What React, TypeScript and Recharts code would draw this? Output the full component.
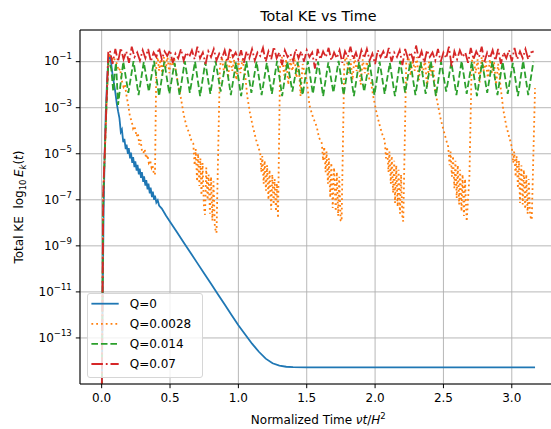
import React from 'react';
import { LineChart, Line, XAxis, YAxis, CartesianGrid, Legend, ReferenceLine } from 'recharts';

// ---- data (time, log10 of total KE) ----
const q0Points: [number, number][] = [
  [0, -16], [0.008, -11], [0.014, -7.5], [0.022, -5], [0.03, -3.2], [0.04, -1.8], [0.048, -1.0], [0.056, -0.68],
  [0.066, -0.9], [0.078, -1.5], [0.09, -1.95], [0.098, -2.25], [0.11, -2.8], [0.12, -3.15], [0.13, -3.45],
  [0.14, -4.05], [0.148, -3.95], [0.158, -4.5], [0.166, -4.35], [0.176, -4.8], [0.182, -4.6], [0.192, -5.0],
  [0.198, -4.75], [0.208, -5.2], [0.214, -4.95], [0.224, -5.4], [0.23, -5.15], [0.24, -5.58], [0.246, -5.33],
  [0.256, -5.73], [0.262, -5.48], [0.272, -5.9], [0.278, -5.65], [0.288, -6.05], [0.294, -5.8], [0.304, -6.22],
  [0.31, -5.98], [0.32, -6.38], [0.326, -6.15], [0.336, -6.55], [0.342, -6.3], [0.352, -6.72], [0.358, -6.47],
  [0.368, -6.88], [0.374, -6.65], [0.384, -7.0], [0.39, -6.82], [0.4, -7.12], [0.41, -7.02], [0.42, -7.25],
  [0.44, -7.38], [0.47, -7.68], [0.5, -7.95], [0.55, -8.4], [0.6, -8.85], [0.65, -9.3], [0.7, -9.75],
  [0.75, -10.2], [0.8, -10.65], [0.85, -11.1], [0.9, -11.55], [0.95, -12.0], [1.0, -12.45], [1.05, -12.85], [1.1, -13.25],
  [1.15, -13.6], [1.2, -13.9], [1.25, -14.1], [1.3, -14.2], [1.35, -14.25], [1.4, -14.27], [1.5, -14.28], [2.0, -14.28],
  [2.5, -14.28], [3.0, -14.28], [3.17, -14.28],
];

const q0028Points: [number, number][] = [
  [0, -16], [0.012, -6.8], [0.024, -4.9], [0.037, -2.7], [0.05, -1.0], [0.06, -0.75],
  [0.075, -0.9], [0.09, -0.8], [0.1, -1.05], [0.11, -1.07], [0.125, -1.4], [0.135, -1.3], [0.146, -1.8], [0.16, -2.1],
  [0.17, -2.0], [0.183, -2.52], [0.195, -2.9], [0.207, -3.39], [0.22, -3.6], [0.23, -3.9], [0.24, -3.8], [0.256, -4.25],
  [0.265, -4.1], [0.275, -4.6], [0.285, -4.4], [0.295, -4.9], [0.305, -4.97], [0.315, -4.8], [0.325, -5.2], [0.335, -5.05],
  [0.345, -5.4], [0.355, -5.3], [0.365, -5.6], [0.372, -5.5], [0.38, -5.8], [0.39, -5.92], [0.40, -1.0],
  [0.41, -0.8], [0.42, -1.4], [0.43, -0.9], [0.445, -1.6], [0.455, -0.8], [0.47, -1.3], [0.48, -0.7], [0.495, -1.5],
  [0.505, -0.9], [0.52, -1.2], [0.53, -0.8], [0.54, -1.3],
  [0.56, -2.0], [0.58, -2.6], [0.6, -3.3], [0.62, -3.8], [0.64, -4.1], [0.655, -4.4], [0.67, -4.54], [0.68, -5.5],
  [0.688, -4.8], [0.698, -6.2], [0.705, -5.0], [0.715, -6.4], [0.722, -5.2], [0.73, -6.8], [0.738, -5.4], [0.748, -7.3],
  [0.756, -7.65], [0.765, -5.6], [0.775, -7.0], [0.782, -5.9], [0.792, -7.6], [0.8, -6.0], [0.81, -7.9], [0.818, -6.2],
  [0.828, -8.2], [0.84, -8.44], [0.865, -1.2],
  [0.88, -0.8], [0.895, -1.5], [0.91, -0.9], [0.925, -1.7], [0.94, -0.8], [0.955, -1.4], [0.97, -0.9], [0.985, -1.8],
  [1.0, -1.0], [1.015, -1.5], [1.03, -0.9], [1.05, -1.6],
  [1.065, -2.5], [1.085, -3.24], [1.105, -3.8], [1.13, -4.4], [1.145, -4.7], [1.16, -4.97], [1.168, -5.8], [1.175, -5.1],
  [1.185, -6.3], [1.192, -5.3], [1.202, -6.6], [1.21, -5.5], [1.22, -7.0], [1.228, -5.7], [1.24, -7.43], [1.248, -5.9],
  [1.258, -7.2], [1.265, -6.1], [1.275, -7.5], [1.282, -6.3], [1.29, -7.8], [1.305, -1.2],
  [1.32, -0.8], [1.335, -1.6], [1.35, -0.9], [1.365, -2.0], [1.38, -0.9], [1.395, -1.4], [1.41, -0.8], [1.425, -1.7],
  [1.44, -1.0], [1.455, -2.5], [1.47, -1.1], [1.485, -1.5], [1.5, -1.8],
  [1.52, -2.9], [1.545, -3.4], [1.573, -3.82], [1.59, -4.3], [1.61, -4.54], [1.62, -5.3], [1.628, -4.7], [1.638, -5.8],
  [1.645, -4.9], [1.655, -6.3], [1.662, -5.2], [1.672, -6.9], [1.68, -5.4], [1.69, -7.36], [1.7, -5.6], [1.712, -7.5],
  [1.72, -5.8], [1.73, -7.7], [1.738, -6.0], [1.748, -7.9], [1.755, -7.94], [1.775, -1.0],
  [1.79, -0.8], [1.805, -1.5], [1.82, -0.9], [1.835, -1.8], [1.85, -0.8], [1.865, -1.4], [1.88, -1.0], [1.895, -2.0],
  [1.91, -0.9], [1.925, -1.5], [1.94, -1.0], [1.955, -1.7], [1.97, -1.9],
  [1.987, -2.52], [2.01, -3.2], [2.036, -3.82], [2.055, -4.2], [2.07, -4.4], [2.08, -5.2], [2.088, -4.7], [2.098, -5.8],
  [2.105, -4.9], [2.115, -6.3], [2.122, -5.1], [2.132, -6.7], [2.14, -5.3], [2.146, -7.14], [2.155, -5.5], [2.165, -7.3],
  [2.172, -5.7], [2.182, -7.6], [2.19, -5.9], [2.2, -7.8], [2.206, -7.94], [2.228, -1.0],
  [2.245, -0.8], [2.26, -1.6], [2.275, -0.9], [2.29, -1.4], [2.305, -0.8], [2.32, -1.8], [2.335, -1.0], [2.35, -1.5],
  [2.365, -0.9], [2.38, -2.1], [2.395, -1.0], [2.41, -1.6], [2.425, -1.2], [2.44, -2.3],
  [2.462, -2.95], [2.48, -3.5], [2.5, -3.96], [2.52, -4.4], [2.535, -4.7], [2.545, -5.5], [2.552, -4.9], [2.562, -6.0],
  [2.57, -5.1], [2.58, -6.5], [2.588, -5.3], [2.597, -6.93], [2.605, -5.5], [2.615, -7.2], [2.622, -5.7], [2.632, -7.5],
  [2.64, -5.9], [2.65, -7.7], [2.658, -6.1], [2.67, -7.94], [2.69, -6.0], [2.707, -1.0],
  [2.72, -0.8], [2.735, -1.5], [2.75, -0.9], [2.765, -1.9], [2.78, -0.8], [2.795, -1.4], [2.81, -1.0], [2.825, -1.7],
  [2.84, -0.9], [2.855, -1.5], [2.87, -1.0], [2.885, -2.0], [2.9, -1.1], [2.92, -2.2],
  [2.938, -3.1], [2.96, -3.8], [2.987, -4.4], [3.0, -4.7], [3.01, -5.4], [3.018, -4.9], [3.028, -6.0], [3.035, -5.1],
  [3.045, -6.5], [3.052, -5.3], [3.06, -7.14], [3.07, -5.5], [3.08, -7.2], [3.088, -5.7], [3.098, -7.4], [3.106, -5.9],
  [3.116, -7.6], [3.124, -6.1], [3.134, -7.7], [3.146, -7.87], [3.17, -2.15],
];

const q014Times: number[] = [
  0, 0.012, 0.024, 0.037, 0.05, 0.07, 0.085, 0.095, 0.105, 0.12,
  0.158, 0.195, 0.233, 0.27, 0.308, 0.345, 0.383, 0.42, 0.458, 0.495,
  0.533, 0.57, 0.608, 0.645, 0.683, 0.72, 0.758, 0.795, 0.833, 0.87,
  0.908, 0.945, 0.983, 1.02, 1.058, 1.095, 1.133, 1.17, 1.208, 1.245,
  1.283, 1.32, 1.358, 1.395, 1.433, 1.47, 1.508, 1.545, 1.583, 1.62,
  1.658, 1.695, 1.733, 1.77, 1.808, 1.845, 1.883, 1.92, 1.958, 1.995,
  2.033, 2.07, 2.108, 2.145, 2.183, 2.22, 2.258, 2.295, 2.333, 2.37,
  2.408, 2.445, 2.483, 2.52, 2.558, 2.595, 2.633, 2.67, 2.708, 2.745,
  2.783, 2.82, 2.858, 2.895, 2.933, 2.97, 3.008, 3.045, 3.083, 3.12,
  3.158,
];
const q014Log: number[] = [
  -16, -6.8, -4.8, -2.6, -0.95, -1.3, -2.3, -1.5, -1.05, -2.88,
  -1.0, -2.35, -0.98, -2.45, -1.02, -2.3, -0.97, -2.5, -1.0, -2.4,
  -1.05, -2.45, -0.98, -2.35, -1.0, -2.5, -1.02, -2.4, -0.97, -2.3,
  -1.0, -2.45, -1.03, -2.5, -0.98, -2.35, -1.0, -2.45, -1.05, -2.4,
  -0.97, -2.5, -1.0, -2.3, -1.02, -2.45, -0.98, -2.4, -1.0, -2.5,
  -1.03, -2.35, -0.97, -2.45, -1.0, -2.5, -1.02, -2.3, -0.98, -2.45,
  -1.0, -2.4, -1.05, -2.5, -0.97, -2.35, -1.0, -2.45, -1.02, -2.4,
  -0.98, -2.5, -1.0, -2.3, -1.03, -2.45, -0.97, -2.4, -1.0, -2.5,
  -1.02, -2.35, -0.98, -2.45, -1.0, -2.4, -1.05, -2.5, -0.97, -2.45,
  -1.0,
];

const q07Times: number[] = [
  0, 0.012, 0.024, 0.037, 0.048,
  0.06, 0.08, 0.10, 0.12, 0.14, 0.16, 0.18, 0.20, 0.22, 0.24,
  0.26, 0.28, 0.30, 0.32, 0.34, 0.36, 0.38, 0.40, 0.42, 0.44,
  0.46, 0.48, 0.50, 0.52, 0.54, 0.56, 0.58, 0.60, 0.62, 0.64,
  0.66, 0.68, 0.70, 0.72, 0.74, 0.76, 0.78, 0.80, 0.82, 0.84,
  0.86, 0.88, 0.90, 0.92, 0.94, 0.96, 0.98, 1.00, 1.02, 1.04,
  1.06, 1.08, 1.10, 1.12, 1.14, 1.16, 1.18, 1.20, 1.22, 1.24,
  1.26, 1.28, 1.30, 1.32, 1.34, 1.36, 1.38, 1.40, 1.42, 1.44,
  1.46, 1.48, 1.50, 1.52, 1.54, 1.56, 1.58, 1.60, 1.62, 1.64,
  1.66, 1.68, 1.70, 1.72, 1.74, 1.76, 1.78, 1.80, 1.82, 1.84,
  1.86, 1.88, 1.90, 1.92, 1.94, 1.96, 1.98, 2.00, 2.02, 2.04,
  2.06, 2.08, 2.10, 2.12, 2.14, 2.16, 2.18, 2.20, 2.22, 2.24,
  2.26, 2.28, 2.30, 2.32, 2.34, 2.36, 2.38, 2.40, 2.42, 2.44,
  2.46, 2.48, 2.50, 2.52, 2.54, 2.56, 2.58, 2.60, 2.62, 2.64,
  2.66, 2.68, 2.70, 2.72, 2.74, 2.76, 2.78, 2.80, 2.82, 2.84,
  2.86, 2.88, 2.90, 2.92, 2.94, 2.96, 2.98, 3.00, 3.02, 3.04,
  3.06, 3.08, 3.10, 3.12, 3.14, 3.16,
];
const q07Log: number[] = [
  -16, -6.6, -4.7, -2.5, -0.6,
  -0.5, -1.1, -0.45, -1.0, -0.4, -0.9, -0.55, -1.05, -0.35, -0.8,
  -0.6, -0.95, -0.5, -0.85, -0.45, -1.0, -0.6, -0.8, -0.4, -0.9,
  -0.55, -0.75, -0.5, -1.05, -0.65, -0.85, -0.45, -0.95, -0.6, -0.8,
  -0.5, -0.9, -0.35, -0.85, -0.6, -1.1, -0.55, -0.8, -0.45, -0.95,
  -0.65, -0.85, -0.5, -1.0, -0.4, -0.8, -0.6, -0.9, -0.5, -1.05,
  -0.55, -0.85, -0.45, -0.95, -0.6, -0.75, -0.4, -1.0, -0.55, -0.9,
  -0.35, -0.85, -0.6, -1.15, -0.5, -0.8, -0.65, -0.95, -0.45, -0.85,
  -0.55, -1.0, -0.5, -0.8, -0.6, -1.3, -0.45, -0.9, -0.55, -0.8,
  -0.4, -0.95, -0.6, -0.85, -0.5, -1.05, -0.55, -0.8, -0.35, -0.9,
  -0.6, -1.0, -0.5, -0.85, -0.45, -0.95, -0.65, -1.1, -0.5, -0.8,
  -0.55, -0.9, -0.4, -1.0, -0.6, -0.8, -0.5, -1.15, -0.45, -0.85,
  -0.6, -0.95, -0.3, -0.9, -0.55, -1.05, -0.5, -0.8, -0.6, -0.95,
  -0.45, -1.0, -0.6, -0.85, -0.35, -1.2, -0.55, -0.9, -0.5, -0.8,
  -0.6, -1.05, -0.4, -0.9, -0.55, -0.8, -0.35, -1.0, -0.6, -0.85,
  -0.5, -0.95, -0.45, -1.1, -0.6, -0.85, -0.5, -1.0, -0.4, -0.9,
  -0.55, -0.85, -0.45, -0.9, -0.6, -0.55,
];

const xTicks = [0, 0.5, 1.0, 1.5, 2.0, 2.5, 3.0];
const yTickExps = [-1, -3, -5, -7, -9, -11, -13];
const seriesNames = ['Q=0', 'Q=0.0028', 'Q=0.014', 'Q=0.07'];
const seriesColors = ['#1f77b4', '#ff7f0e', '#2ca02c', '#d62728'];
const seriesDashes = [undefined, '1.8 3', '6.6 2.9', '11.5 2.9 1.8 2.9'];

// ---- build series ----
const toRows = (pts: [number, number][]) => pts.map(([t, e]) => ({ t, v: Math.pow(10, e) }));
const zipRows = (ts: number[], es: number[]) => ts.map((t, i) => ({ t, v: Math.pow(10, es[i]) }));
const seriesData = [
  toRows(q0Points),
  toRows(q0028Points),
  zipRows(q014Times, q014Log),
  zipRows(q07Times, q07Log),
];

const FONT = '"DejaVu Sans", sans-serif';
const Y_MIN = 1e-15;
const Y_MAX = Math.pow(10, 0.375);

const YTick = (props: any) => {
  const { x, y, payload } = props;
  const exp = Math.round(Math.log10(payload.value));
  return (
    <text x={x} y={y} textAnchor="end" fontFamily={FONT} fontSize={12} fill="#000" dy="0.32em">
      10
      <tspan dy={-6} fontSize={8.5}>{'\u2212' + Math.abs(exp)}</tspan>
    </text>
  );
};

const LegendBox = () => (
  <svg width={117} height={86} style={{ display: 'block' }}>
    <rect x={0.5} y={0.5} width={115} height={84} rx={2.5} ry={2.5} fill="#ffffff" fillOpacity={0.8} stroke="#d6d6d6" strokeWidth={1} />
    {seriesNames.map((name, i) => {
      const cy = 10.7 + i * 20.1;
      return (
        <g key={name}>
          <line x1={4.4} x2={31.7} y1={cy} y2={cy} stroke={seriesColors[i]} strokeWidth={1.8} strokeDasharray={seriesDashes[i]} />
          <text x={42.7} y={cy} dy="0.36em" fontFamily={FONT} fontSize={12} fill="#000">{name}</text>
        </g>
      );
    })}
  </svg>
);

export default function App() {
  return (
    <div style={{ position: 'absolute', left: 0, top: 0, width: 551, height: 429, overflow: 'hidden', background: '#fff' }}>
      <LineChart width={560} height={429} margin={{ top: 30, right: 3.3, bottom: 0, left: 0 }}>
        <CartesianGrid stroke="#b0b0b0" strokeWidth={0.9} />
        <XAxis
          dataKey="t"
          type="number"
          domain={[-0.1585, 3.3285]}
          allowDataOverflow
          ticks={xTicks}
          tickFormatter={(v: number) => v.toFixed(1)}
          height={45}
          tickSize={4.2}
          tickMargin={5}
          stroke="#000"
          tick={{ fill: '#000', fontSize: 12, fontFamily: FONT }}
          axisLine={{ stroke: '#000', strokeWidth: 1 }}
          tickLine={{ stroke: '#000', strokeWidth: 1 }}
        />
        <YAxis
          dataKey="v"
          type="number"
          scale="log"
          domain={[Y_MIN, Y_MAX]}
          allowDataOverflow
          ticks={yTickExps.map((e) => Math.pow(10, e))}
          width={80}
          tickSize={4.2}
          tickMargin={4}
          tick={<YTick />}
          axisLine={{ stroke: '#000', strokeWidth: 1 }}
          tickLine={{ stroke: '#000', strokeWidth: 1 }}
        />
        <ReferenceLine y={Y_MAX} stroke="#000" strokeWidth={1} ifOverflow="visible" />
        {seriesData.map((rows, i) => (
          <Line
            key={seriesNames[i]}
            data={rows}
            dataKey="v"
            name={seriesNames[i]}
            type="linear"
            stroke={seriesColors[i]}
            strokeWidth={1.8}
            strokeDasharray={seriesDashes[i]}
            dot={false}
            activeDot={false}
            isAnimationActive={false}
          />
        ))}
        <Legend
          layout="vertical"
          align="center"
          verticalAlign="middle"
          content={() => <LegendBox />}
          wrapperStyle={{ position: 'absolute', left: 87, top: 293, width: 117, height: 86, margin: 0, padding: 0 }}
        />
        <text x={318.3} y={20.5} textAnchor="middle" fontFamily={FONT} fontSize={14.3} fill="#000">Total KE vs Time</text>
        <text x={318.3} y={424} textAnchor="middle" fontFamily={FONT} fontSize={12} fill="#000">
          Normalized Time <tspan fontStyle="italic">νt</tspan>/<tspan fontStyle="italic">H</tspan>
          <tspan dy={-5} fontSize={8.5}>2</tspan>
        </text>
        <text transform="translate(22.5,207) rotate(-90)" textAnchor="middle" fontFamily={FONT} fontSize={12} fill="#000">
          {'Total KE\u00a0\u00a0log'}<tspan dy={3} fontSize={8.5}>10</tspan>
          <tspan dy={-3}>{'\u2009'}</tspan><tspan fontStyle="italic">E</tspan>
          <tspan dy={3} fontSize={8.5} fontStyle="italic">k</tspan>
          <tspan dy={-3}>(</tspan><tspan fontStyle="italic">t</tspan>)
        </text>
      </LineChart>
    </div>
  );
}
